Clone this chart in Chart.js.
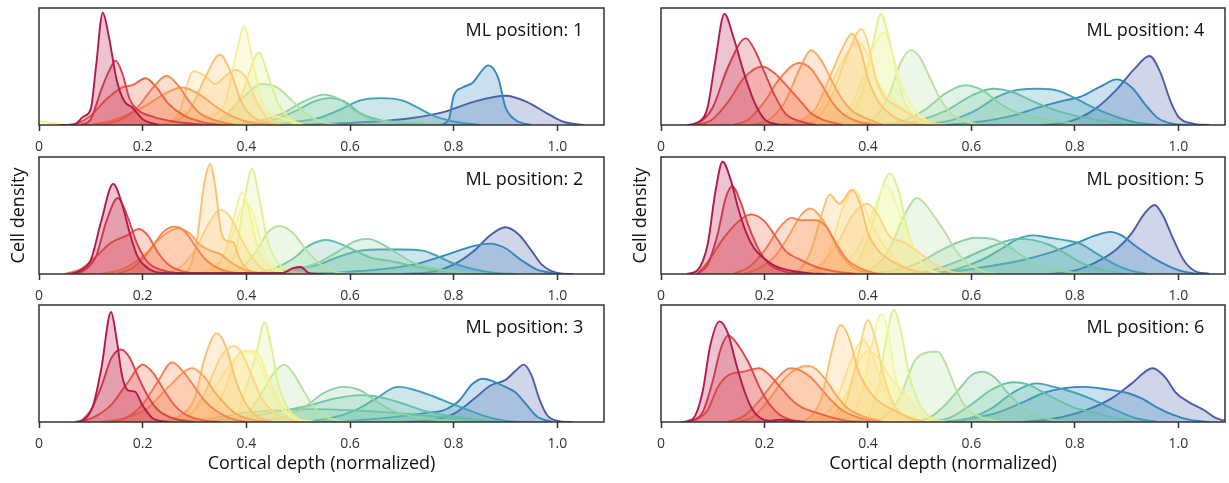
<!DOCTYPE html>
<html><head><meta charset="utf-8">
<script src="https://cdn.jsdelivr.net/npm/chart.js@4.4.1/dist/chart.umd.min.js"></script>
<style>
html,body{margin:0;padding:0;background:#fff;}
body{width:1229px;height:483px;position:relative;overflow:hidden;}
canvas{position:absolute;}
</style></head><body>
<script>
// ---------- data ----------
const xTicks = [0, 0.2, 0.4, 0.6, 0.8, 1.0];
const xTickLabels = ['0', '0.2', '0.4', '0.6', '0.8', '1.0'];
const panelTitles = ['ML position: 1','ML position: 2','ML position: 3','ML position: 4','ML position: 5','ML position: 6'];
const xAxisTitle = 'Cortical depth (normalized)';
const yAxisTitle = 'Cell density';

// each curve: [cell-type index, [[depth, density], ...]]
const ml1 = [
 [0,[[0.04,0],[0.07,0.01],[0.085,0.07],[0.10,0.14],[0.11,0.5],[0.123,0.96],[0.135,0.75],[0.15,0.38],[0.165,0.2],[0.18,0.15],[0.20,0.05],[0.23,0]]],
 [1,[[0.08,0],[0.10,0.05],[0.12,0.3],[0.135,0.46],[0.148,0.55],[0.16,0.45],[0.175,0.22],[0.19,0.13],[0.22,0.07],[0.26,0.03],[0.30,0.01],[0.35,0]]],
 [2,[[0.07,0],[0.10,0.08],[0.13,0.22],[0.16,0.32],[0.18,0.34],[0.206,0.40],[0.225,0.33],[0.25,0.18],[0.28,0.08],[0.32,0.02],[0.36,0]]],
 [3,[[0.12,0],[0.16,0.05],[0.19,0.15],[0.22,0.32],[0.246,0.42],[0.27,0.33],[0.29,0.2],[0.31,0.1],[0.34,0.04],[0.38,0]]],
 [4,[[0.10,0],[0.15,0.05],[0.20,0.15],[0.24,0.26],[0.276,0.32],[0.31,0.26],[0.34,0.16],[0.37,0.08],[0.40,0.03],[0.45,0]]],
 [5,[[0.22,0],[0.26,0.03],[0.29,0.12],[0.32,0.4],[0.349,0.60],[0.37,0.45],[0.39,0.2],[0.41,0.08],[0.44,0.02],[0.47,0]]],
 [6,[[0.24,0],[0.27,0.1],[0.298,0.46],[0.32,0.42],[0.34,0.35],[0.36,0.42],[0.38,0.47],[0.40,0.4],[0.42,0.2],[0.44,0.06],[0.47,0]]],
 [7,[[0,0.03],[0.03,0.015],[0.06,0],[0.25,0],[0.27,0.08],[0.28,0.12],[0.29,0.05],[0.33,0.08],[0.36,0.2],[0.38,0.6],[0.396,0.84],[0.41,0.6],[0.43,0.2],[0.45,0.08],[0.47,0.06],[0.49,0.02],[0.51,0]]],
 [9,[[0.33,0],[0.36,0.05],[0.39,0.25],[0.425,0.62],[0.44,0.45],[0.46,0.2],[0.48,0.07],[0.51,0]]],
 [10,[[0.30,0],[0.35,0.05],[0.39,0.22],[0.43,0.35],[0.46,0.32],[0.49,0.2],[0.52,0.08],[0.55,0.02],[0.58,0]]],
 [11,[[0.35,0],[0.42,0.03],[0.47,0.1],[0.51,0.2],[0.55,0.26],[0.58,0.22],[0.61,0.12],[0.64,0.05],[0.68,0.03],[0.73,0.02],[0.78,0]]],
 [12,[[0.38,0],[0.45,0.04],[0.50,0.13],[0.53,0.2],[0.56,0.23],[0.59,0.2],[0.62,0.1],[0.66,0.04],[0.72,0.01],[0.78,0]]],
 [13,[[0.40,0],[0.48,0.02],[0.54,0.06],[0.58,0.13],[0.62,0.21],[0.66,0.23],[0.70,0.21],[0.73,0.15],[0.76,0.08],[0.80,0.03],[0.85,0]]],
 [14,[[0.77,0],[0.79,0.04],[0.80,0.25],[0.817,0.32],[0.836,0.36],[0.867,0.51],[0.886,0.4],[0.90,0.15],[0.92,0.04],[0.95,0]]],
 [15,[[0.45,0],[0.55,0.01],[0.65,0.03],[0.72,0.06],[0.78,0.11],[0.84,0.2],[0.90,0.25],[0.94,0.2],[0.98,0.1],[1.01,0.03],[1.05,0]]]
];
const ml2 = [
 [0,[[0.06,0],[0.08,0.03],[0.10,0.12],[0.12,0.45],[0.143,0.77],[0.16,0.6],[0.175,0.35],[0.19,0.15],[0.21,0.05],[0.24,0.01],[0.30,0.01],[0.40,0.01],[0.47,0.01],[0.49,0.05],[0.505,0.06],[0.52,0.01],[0.55,0]]],
 [1,[[0.07,0],[0.09,0.04],[0.11,0.15],[0.13,0.45],[0.152,0.65],[0.17,0.5],[0.19,0.25],[0.21,0.1],[0.24,0.03],[0.28,0]]],
 [2,[[0.05,0],[0.08,0.04],[0.11,0.15],[0.14,0.27],[0.17,0.33],[0.193,0.385],[0.21,0.33],[0.23,0.18],[0.25,0.08],[0.28,0.02],[0.32,0]]],
 [3,[[0.15,0],[0.18,0.05],[0.21,0.18],[0.24,0.36],[0.261,0.405],[0.28,0.37],[0.30,0.25],[0.32,0.13],[0.35,0.04],[0.40,0]]],
 [4,[[0.12,0],[0.16,0.04],[0.20,0.15],[0.24,0.33],[0.269,0.39],[0.29,0.35],[0.31,0.25],[0.33,0.2],[0.35,0.17],[0.37,0.1],[0.40,0.03],[0.44,0]]],
 [5,[[0.27,0],[0.29,0.05],[0.305,0.3],[0.318,0.75],[0.33,0.94],[0.34,0.75],[0.352,0.35],[0.365,0.28],[0.375,0.27],[0.385,0.15],[0.40,0.05],[0.43,0]]],
 [6,[[0.24,0],[0.27,0.05],[0.30,0.2],[0.33,0.45],[0.349,0.55],[0.37,0.48],[0.39,0.3],[0.41,0.15],[0.43,0.05],[0.46,0]]],
 [7,[[0.30,0],[0.33,0.04],[0.36,0.2],[0.38,0.55],[0.392,0.70],[0.405,0.55],[0.42,0.25],[0.44,0.08],[0.47,0]]],
 [8,[[0.30,0],[0.34,0.05],[0.37,0.3],[0.39,0.55],[0.40,0.6],[0.415,0.5],[0.43,0.25],[0.45,0.08],[0.48,0]]],
 [9,[[0.33,0],[0.36,0.04],[0.38,0.2],[0.395,0.6],[0.411,0.90],[0.425,0.65],[0.44,0.3],[0.46,0.1],[0.49,0.02],[0.52,0]]],
 [10,[[0.36,0],[0.39,0.05],[0.42,0.2],[0.44,0.35],[0.465,0.41],[0.49,0.35],[0.52,0.18],[0.55,0.06],[0.58,0.01],[0.62,0]]],
 [11,[[0.40,0],[0.48,0.03],[0.54,0.1],[0.58,0.2],[0.61,0.28],[0.635,0.30],[0.66,0.26],[0.69,0.18],[0.72,0.1],[0.76,0.05],[0.80,0.02],[0.85,0]]],
 [12,[[0.40,0],[0.45,0.04],[0.49,0.13],[0.52,0.24],[0.555,0.29],[0.58,0.26],[0.61,0.2],[0.64,0.14],[0.68,0.11],[0.72,0.07],[0.76,0.04],[0.82,0.01],[0.88,0]]],
 [13,[[0.40,0],[0.48,0.03],[0.54,0.08],[0.58,0.15],[0.62,0.2],[0.66,0.21],[0.70,0.21],[0.74,0.2],[0.77,0.15],[0.80,0.09],[0.84,0.04],[0.88,0.01],[0.92,0]]],
 [14,[[0.50,0],[0.60,0.02],[0.68,0.05],[0.74,0.1],[0.79,0.17],[0.84,0.24],[0.87,0.26],[0.90,0.22],[0.93,0.12],[0.96,0.04],[1.00,0]]],
 [15,[[0.70,0],[0.76,0.02],[0.80,0.08],[0.84,0.2],[0.87,0.33],[0.90,0.40],[0.925,0.34],[0.95,0.2],[0.97,0.08],[1.00,0.01],[1.03,0]]]
];
const ml3 = [
 [0,[[0.07,0],[0.09,0.03],[0.105,0.15],[0.12,0.45],[0.139,0.94],[0.15,0.7],[0.16,0.4],[0.172,0.27],[0.185,0.26],[0.20,0.14],[0.22,0.03],[0.25,0]]],
 [1,[[0.08,0],[0.10,0.1],[0.12,0.3],[0.14,0.55],[0.158,0.62],[0.175,0.55],[0.19,0.4],[0.21,0.22],[0.23,0.1],[0.26,0.03],[0.30,0]]],
 [2,[[0.08,0],[0.11,0.05],[0.14,0.15],[0.17,0.33],[0.20,0.49],[0.22,0.42],[0.24,0.28],[0.26,0.15],[0.28,0.07],[0.31,0.02],[0.35,0]]],
 [3,[[0.14,0],[0.17,0.04],[0.20,0.15],[0.23,0.35],[0.257,0.51],[0.28,0.42],[0.30,0.3],[0.32,0.18],[0.34,0.1],[0.37,0.03],[0.40,0]]],
 [4,[[0.12,0],[0.17,0.04],[0.21,0.12],[0.25,0.3],[0.296,0.46],[0.32,0.38],[0.34,0.25],[0.36,0.15],[0.38,0.07],[0.41,0.02],[0.45,0]]],
 [5,[[0.24,0],[0.27,0.05],[0.30,0.2],[0.32,0.55],[0.343,0.76],[0.36,0.65],[0.38,0.35],[0.40,0.15],[0.42,0.05],[0.45,0]]],
 [6,[[0.26,0],[0.29,0.05],[0.32,0.25],[0.35,0.55],[0.375,0.65],[0.39,0.6],[0.41,0.4],[0.43,0.2],[0.46,0.06],[0.50,0]]],
 [7,[[0.30,0],[0.33,0.05],[0.36,0.3],[0.38,0.55],[0.40,0.61],[0.42,0.6],[0.44,0.4],[0.46,0.2],[0.48,0.08],[0.50,0.02],[0.53,0]]],
 [8,[[0.20,0],[0.25,0.02],[0.30,0.1],[0.34,0.3],[0.37,0.5],[0.395,0.6],[0.41,0.6],[0.43,0.45],[0.45,0.25],[0.47,0.1],[0.50,0.02],[0.53,0]]],
 [9,[[0.35,0],[0.38,0.05],[0.40,0.3],[0.42,0.6],[0.435,0.85],[0.45,0.6],[0.46,0.35],[0.48,0.12],[0.50,0.03],[0.53,0]]],
 [10,[[0.36,0],[0.40,0.06],[0.43,0.25],[0.455,0.43],[0.473,0.49],[0.49,0.42],[0.51,0.27],[0.53,0.13],[0.55,0.05],[0.58,0.01],[0.62,0]]],
 [11,[[0.40,0],[0.46,0.03],[0.51,0.12],[0.55,0.25],[0.589,0.30],[0.62,0.27],[0.65,0.18],[0.68,0.1],[0.72,0.05],[0.77,0.02],[0.82,0]]],
 [12,[[0.30,0],[0.38,0.03],[0.45,0.08],[0.52,0.14],[0.57,0.2],[0.62,0.23],[0.66,0.21],[0.70,0.16],[0.74,0.1],[0.78,0.06],[0.83,0.03],[0.88,0]]],
 [12,[[0.25,0],[0.33,0.03],[0.40,0.08],[0.46,0.1],[0.53,0.11],[0.60,0.1],[0.68,0.08],[0.76,0.05],[0.84,0.02],[0.90,0]]],
 [13,[[0.50,0],[0.56,0.03],[0.61,0.1],[0.65,0.2],[0.692,0.30],[0.72,0.28],[0.76,0.22],[0.80,0.15],[0.83,0.1],[0.86,0.05],[0.90,0.01],[0.93,0]]],
 [14,[[0.55,0],[0.63,0.02],[0.70,0.05],[0.75,0.08],[0.78,0.1],[0.81,0.18],[0.835,0.32],[0.855,0.37],[0.875,0.35],[0.90,0.3],[0.92,0.25],[0.94,0.15],[0.96,0.05],[0.99,0]]],
 [15,[[0.70,0],[0.76,0.02],[0.80,0.07],[0.84,0.2],[0.87,0.31],[0.90,0.36],[0.92,0.44],[0.935,0.49],[0.95,0.4],[0.965,0.2],[0.98,0.06],[1.00,0.01],[1.03,0]]]
];
const ml4 = [
 [0,[[0.05,0],[0.07,0.02],[0.09,0.15],[0.105,0.55],[0.1225,0.95],[0.14,0.75],[0.16,0.45],[0.18,0.2],[0.20,0.05],[0.22,0.01],[0.25,0]]],
 [1,[[0.06,0],[0.08,0.04],[0.10,0.15],[0.13,0.5],[0.164,0.74],[0.18,0.65],[0.20,0.45],[0.22,0.25],[0.24,0.1],[0.27,0.03],[0.30,0]]],
 [2,[[0.07,0],[0.10,0.05],[0.13,0.2],[0.16,0.4],[0.196,0.5],[0.22,0.44],[0.25,0.3],[0.27,0.2],[0.29,0.1],[0.31,0.05],[0.35,0]]],
 [3,[[0.14,0],[0.17,0.05],[0.20,0.2],[0.23,0.4],[0.267,0.53],[0.29,0.48],[0.31,0.35],[0.33,0.2],[0.35,0.1],[0.38,0.03],[0.42,0]]],
 [4,[[0.18,0],[0.21,0.05],[0.24,0.2],[0.27,0.5],[0.29,0.64],[0.31,0.55],[0.33,0.38],[0.35,0.22],[0.37,0.12],[0.40,0.05],[0.43,0]]],
 [5,[[0.24,0],[0.27,0.04],[0.30,0.15],[0.33,0.45],[0.35,0.65],[0.369,0.78],[0.385,0.65],[0.40,0.4],[0.42,0.2],[0.45,0.07],[0.48,0.02],[0.51,0]]],
 [6,[[0.27,0],[0.30,0.05],[0.33,0.25],[0.36,0.6],[0.388,0.82],[0.40,0.7],[0.415,0.4],[0.43,0.25],[0.46,0.15],[0.49,0.07],[0.52,0.02],[0.55,0]]],
 [7,[[0.24,0],[0.28,0.04],[0.31,0.15],[0.34,0.45],[0.36,0.62],[0.379,0.71],[0.40,0.6],[0.42,0.35],[0.45,0.2],[0.48,0.1],[0.51,0.03],[0.54,0]]],
 [8,[[0.32,0],[0.36,0.1],[0.39,0.4],[0.415,0.7],[0.43,0.79],[0.445,0.65],[0.46,0.4],[0.48,0.2],[0.50,0.08],[0.53,0]]],
 [9,[[0.33,0],[0.36,0.05],[0.39,0.3],[0.41,0.7],[0.425,0.95],[0.44,0.75],[0.455,0.45],[0.47,0.2],[0.49,0.07],[0.52,0]]],
 [10,[[0.38,0],[0.41,0.05],[0.44,0.25],[0.465,0.55],[0.483,0.64],[0.50,0.58],[0.52,0.4],[0.54,0.22],[0.56,0.1],[0.59,0.03],[0.62,0]]],
 [11,[[0.42,0],[0.47,0.04],[0.51,0.13],[0.55,0.27],[0.587,0.34],[0.62,0.3],[0.65,0.2],[0.68,0.12],[0.72,0.07],[0.77,0.03],[0.82,0]]],
 [12,[[0.45,0],[0.50,0.04],[0.55,0.12],[0.60,0.25],[0.642,0.31],[0.68,0.28],[0.72,0.2],[0.76,0.13],[0.80,0.08],[0.85,0.04],[0.90,0.01],[0.94,0]]],
 [13,[[0.50,0],[0.56,0.04],[0.61,0.13],[0.65,0.24],[0.69,0.3],[0.73,0.31],[0.77,0.29],[0.80,0.23],[0.84,0.14],[0.88,0.07],[0.92,0.02],[0.96,0]]],
 [14,[[0.55,0],[0.62,0.03],[0.68,0.08],[0.73,0.15],[0.78,0.21],[0.81,0.24],[0.85,0.33],[0.881,0.39],[0.91,0.32],[0.935,0.18],[0.96,0.06],[0.99,0.01],[1.02,0]]],
 [15,[[0.74,0],[0.79,0.03],[0.84,0.14],[0.88,0.3],[0.915,0.48],[0.944,0.59],[0.965,0.45],[0.985,0.2],[1.00,0.07],[1.03,0.01],[1.06,0]]]
];
const ml5 = [
 [0,[[0.05,0],[0.07,0.03],[0.09,0.25],[0.105,0.7],[0.119,0.96],[0.135,0.8],[0.15,0.55],[0.165,0.35],[0.18,0.22],[0.20,0.13],[0.22,0.07],[0.25,0.03],[0.28,0.01],[0.32,0]]],
 [1,[[0.07,0],[0.09,0.08],[0.11,0.35],[0.125,0.65],[0.138,0.75],[0.155,0.6],[0.17,0.4],[0.19,0.2],[0.21,0.08],[0.24,0.02],[0.27,0]]],
 [2,[[0.07,0],[0.09,0.1],[0.12,0.3],[0.15,0.45],[0.174,0.51],[0.20,0.45],[0.22,0.33],[0.24,0.2],[0.27,0.12],[0.30,0.06],[0.34,0.02],[0.38,0]]],
 [3,[[0.14,0],[0.17,0.06],[0.20,0.2],[0.23,0.4],[0.252,0.48],[0.27,0.46],[0.30,0.46],[0.32,0.4],[0.34,0.25],[0.36,0.12],[0.39,0.04],[0.42,0]]],
 [4,[[0.16,0],[0.19,0.05],[0.22,0.15],[0.25,0.35],[0.27,0.5],[0.288,0.56],[0.31,0.48],[0.33,0.32],[0.35,0.15],[0.37,0.06],[0.40,0.01],[0.43,0]]],
 [5,[[0.24,0],[0.27,0.05],[0.29,0.2],[0.31,0.5],[0.326,0.68],[0.345,0.6],[0.369,0.72],[0.385,0.6],[0.40,0.35],[0.42,0.2],[0.45,0.1],[0.48,0.04],[0.52,0]]],
 [6,[[0.26,0],[0.30,0.05],[0.34,0.25],[0.37,0.5],[0.398,0.6],[0.42,0.5],[0.44,0.33],[0.47,0.27],[0.50,0.18],[0.53,0.08],[0.56,0.02],[0.60,0]]],
 [7,[[0.28,0],[0.31,0.05],[0.33,0.25],[0.35,0.55],[0.375,0.72],[0.39,0.6],[0.41,0.4],[0.43,0.25],[0.46,0.1],[0.49,0.03],[0.52,0]]],
 [8,[[0.33,0],[0.36,0.1],[0.39,0.3],[0.415,0.6],[0.435,0.76],[0.45,0.65],[0.47,0.4],[0.49,0.2],[0.51,0.06],[0.54,0]]],
 [9,[[0.34,0],[0.37,0.05],[0.40,0.3],[0.425,0.7],[0.442,0.86],[0.46,0.7],[0.475,0.4],[0.49,0.2],[0.51,0.07],[0.54,0]]],
 [10,[[0.38,0],[0.41,0.05],[0.44,0.2],[0.47,0.5],[0.495,0.65],[0.51,0.6],[0.53,0.48],[0.55,0.35],[0.57,0.2],[0.59,0.1],[0.62,0.03],[0.65,0]]],
 [11,[[0.40,0],[0.46,0.04],[0.50,0.1],[0.54,0.2],[0.58,0.28],[0.607,0.31],[0.64,0.3],[0.67,0.24],[0.70,0.15],[0.73,0.08],[0.77,0.03],[0.82,0]]],
 [12,[[0.48,0],[0.53,0.04],[0.58,0.12],[0.62,0.2],[0.66,0.27],[0.687,0.3],[0.72,0.29],[0.75,0.25],[0.78,0.18],[0.81,0.1],[0.85,0.04],[0.90,0]]],
 [13,[[0.52,0],[0.57,0.04],[0.62,0.12],[0.66,0.22],[0.69,0.3],[0.718,0.33],[0.75,0.31],[0.78,0.29],[0.81,0.26],[0.84,0.18],[0.87,0.1],[0.90,0.04],[0.94,0]]],
 [14,[[0.50,0],[0.58,0.03],[0.64,0.07],[0.70,0.12],[0.75,0.18],[0.80,0.26],[0.84,0.33],[0.868,0.36],[0.89,0.33],[0.92,0.23],[0.95,0.14],[0.98,0.07],[1.01,0.02],[1.04,0]]],
 [15,[[0.75,0],[0.80,0.03],[0.84,0.1],[0.88,0.21],[0.91,0.35],[0.935,0.52],[0.954,0.59],[0.97,0.5],[0.99,0.3],[1.01,0.12],[1.03,0.03],[1.06,0]]]
];
const ml6 = [
 [0,[[0.04,0],[0.06,0.02],[0.08,0.25],[0.095,0.65],[0.113,0.86],[0.13,0.75],[0.145,0.5],[0.16,0.28],[0.175,0.12],[0.19,0.04],[0.21,0.01],[0.23,0.02],[0.25,0.01],[0.28,0]]],
 [1,[[0.05,0],[0.08,0.08],[0.10,0.35],[0.115,0.62],[0.13,0.74],[0.15,0.65],[0.17,0.5],[0.19,0.3],[0.21,0.15],[0.23,0.06],[0.25,0.02],[0.28,0]]],
 [2,[[0.06,0],[0.09,0.1],[0.11,0.3],[0.13,0.4],[0.16,0.43],[0.189,0.46],[0.21,0.4],[0.23,0.3],[0.25,0.2],[0.27,0.13],[0.30,0.08],[0.33,0.04],[0.36,0.01],[0.40,0]]],
 [3,[[0.13,0],[0.16,0.05],[0.19,0.18],[0.22,0.35],[0.25,0.46],[0.27,0.44],[0.29,0.38],[0.31,0.28],[0.33,0.18],[0.35,0.1],[0.38,0.04],[0.42,0]]],
 [4,[[0.15,0],[0.18,0.05],[0.21,0.2],[0.24,0.38],[0.265,0.46],[0.284,0.48],[0.30,0.45],[0.32,0.35],[0.34,0.22],[0.36,0.12],[0.39,0.05],[0.43,0]]],
 [5,[[0.27,0],[0.29,0.05],[0.31,0.2],[0.33,0.6],[0.347,0.83],[0.365,0.7],[0.38,0.45],[0.40,0.28],[0.42,0.18],[0.45,0.1],[0.48,0.04],[0.51,0]]],
 [6,[[0.31,0],[0.34,0.05],[0.36,0.2],[0.38,0.55],[0.40,0.87],[0.415,0.7],[0.43,0.4],[0.45,0.15],[0.47,0.05],[0.50,0]]],
 [7,[[0.28,0],[0.31,0.04],[0.34,0.2],[0.365,0.5],[0.39,0.7],[0.41,0.55],[0.43,0.3],[0.45,0.12],[0.47,0.04],[0.50,0]]],
 [7,[[0.30,0],[0.33,0.05],[0.36,0.25],[0.38,0.5],[0.40,0.6],[0.42,0.55],[0.44,0.4],[0.46,0.3],[0.48,0.2],[0.50,0.08],[0.53,0]]],
 [8,[[0.35,0],[0.37,0.05],[0.39,0.3],[0.41,0.7],[0.425,0.92],[0.44,0.75],[0.45,0.45],[0.47,0.15],[0.49,0.04],[0.52,0]]],
 [9,[[0.37,0],[0.40,0.05],[0.42,0.3],[0.435,0.7],[0.45,0.96],[0.465,0.75],[0.48,0.4],[0.50,0.15],[0.52,0.04],[0.55,0]]],
 [10,[[0.40,0],[0.43,0.04],[0.46,0.2],[0.49,0.52],[0.51,0.59],[0.535,0.6],[0.55,0.5],[0.57,0.28],[0.59,0.12],[0.62,0.04],[0.66,0]]],
 [11,[[0.48,0],[0.52,0.04],[0.55,0.15],[0.58,0.3],[0.60,0.4],[0.622,0.43],[0.645,0.38],[0.67,0.25],[0.70,0.12],[0.73,0.05],[0.77,0.01],[0.82,0]]],
 [12,[[0.52,0],[0.56,0.04],[0.60,0.15],[0.64,0.28],[0.68,0.34],[0.71,0.32],[0.74,0.25],[0.77,0.18],[0.80,0.12],[0.84,0.08],[0.88,0.03],[0.92,0]]],
 [13,[[0.55,0],[0.60,0.04],[0.64,0.12],[0.68,0.25],[0.725,0.33],[0.76,0.3],[0.80,0.25],[0.83,0.2],[0.86,0.14],[0.89,0.08],[0.92,0.03],[0.96,0]]],
 [14,[[0.55,0],[0.60,0.03],[0.65,0.08],[0.70,0.17],[0.74,0.25],[0.78,0.29],[0.82,0.3],[0.86,0.28],[0.90,0.25],[0.93,0.2],[0.96,0.12],[0.99,0.06],[1.02,0.02],[1.06,0]]],
 [15,[[0.70,0],[0.76,0.03],[0.82,0.1],[0.87,0.2],[0.91,0.33],[0.95,0.46],[0.975,0.38],[0.995,0.25],[1.02,0.17],[1.05,0.1],[1.07,0.04],[1.09,0.01]]]
];
const panels = [ml1, ml2, ml3, ml4, ml5, ml6];

// ---------- style ----------
const palette = ['#b5194a','#d8424d','#ee6145','#f7844c','#fba55b','#fdc06e','#fed683','#f9ed98',
                 '#f2f6a2','#def192','#b7e2a1','#8bd1a4','#66c0a6','#3fa0b6','#3487bd','#4a5ea9'];
const FONT = '"Open Sans", "DejaVu Sans", sans-serif';
const INK = '#333333';
const colLeft = [39, 661], colRight = [604, 1225], rowTop = [8, 157, 305], frameH = 117;
const yW = 35, padTop = 4, padRight = 8;

function rgba(hex, a){
  const n = parseInt(hex.slice(1),16);
  return `rgba(${(n>>16)&255},${(n>>8)&255},${n&255},${a})`;
}

const framePlugin = {
  id:'frame',
  afterDraw(chart, args, opts){
    const {ctx, chartArea:a} = chart;
    ctx.save();
    ctx.strokeStyle = INK; ctx.lineWidth = 1.5;
    ctx.strokeRect(a.left, a.top, a.right - a.left, a.bottom - a.top);
    ctx.fillStyle = '#111';
    ctx.font = '18px ' + FONT;
    ctx.textAlign = 'right'; ctx.textBaseline = 'middle';
    ctx.fillText(opts.text, chart.scales.x.getPixelForValue(1.05), a.top + 23);
    ctx.restore();
  }
};

panels.forEach((curves, p) => {
  const col = Math.floor(p / 3), row = p % 3;
  const xH = row === 2 ? 57 : 31;
  const cv = document.createElement('canvas');
  const left = colLeft[col] - yW, top = rowTop[row] - padTop;
  const W = colRight[col] - colLeft[col] + yW + padRight, H = padTop + frameH + xH;
  cv.width = W; cv.height = H;
  cv.style.left = left + 'px'; cv.style.top = top + 'px';
  cv.style.width = W + 'px'; cv.style.height = H + 'px';
  document.body.appendChild(cv);

  const datasets = curves.map(([t, pts]) => ({
    data: pts,
    borderColor: palette[t],
    backgroundColor: rgba(palette[t], 0.26),
    borderWidth: 1.9,
    fill: 'origin',
    pointRadius: 0,
    cubicInterpolationMode: 'monotone'
  }));

  new Chart(cv, {
    type: 'line',
    data: { datasets },
    plugins: [framePlugin],
    options: {
      responsive: false, animation: false, devicePixelRatio: 1,
      layout: { padding: { top: padTop, right: padRight, left: 0, bottom: 0 } },
      plugins: { legend: { display: false }, tooltip: { enabled: false }, frame: { text: panelTitles[p] } },
      scales: {
        x: {
          type: 'linear', min: 0, max: 1.09,
          afterFit: s => { s.height = xH; },
          afterBuildTicks: s => { s.ticks = xTicks.map(v => ({ value: v })); },
          ticks: { autoSkip: false, maxRotation: 0, padding: 8, color: INK,
                   font: { family: FONT, size: 14 },
                   callback: v => xTickLabels[xTicks.indexOf(v)] },
          grid: { drawOnChartArea: false, drawTicks: true, tickLength: 6, tickWidth: 1.5, tickColor: INK, color: INK },
          border: { display: false },
          title: { display: row === 2, text: xAxisTitle, color: '#111', font: { family: FONT, size: 18 }, padding: { top: 4, bottom: 4 } }
        },
        y: {
          min: 0, max: 1,
          afterFit: s => { s.width = yW; },
          ticks: { display: false },
          grid: { display: false },
          border: { display: false },
          title: { display: row === 1, text: yAxisTitle, color: '#111', font: { family: FONT, size: 18 }, padding: { top: 4, bottom: 4 } }
        }
      }
    }
  });
});
</script>
</body></html>
